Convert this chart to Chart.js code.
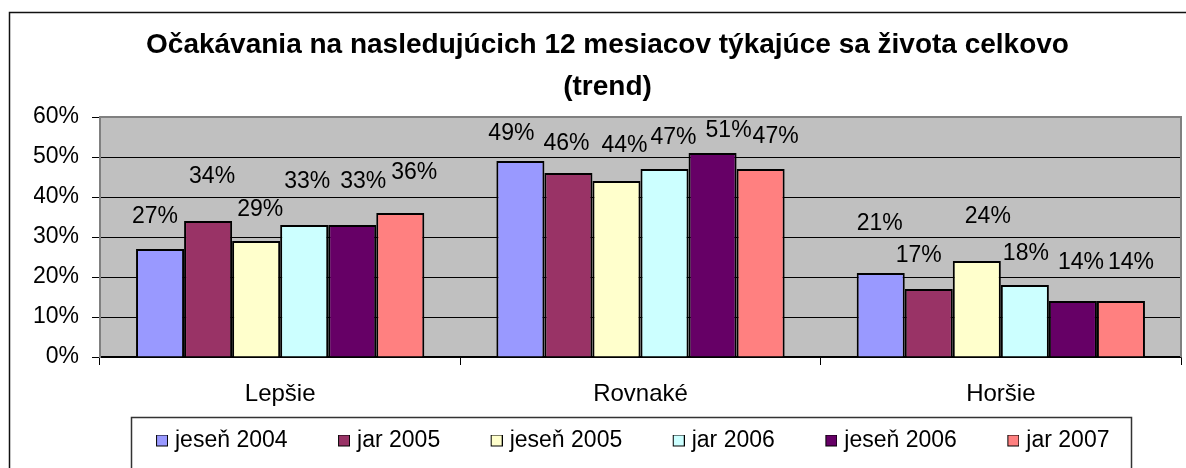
<!DOCTYPE html>
<html>
<head>
<meta charset="utf-8">
<script src="https://cdn.jsdelivr.net/npm/chart.js@4/dist/chart.umd.min.js"></script>
<style>
  html, body { margin: 0; padding: 0; background: #fff; }
  #wrap { width: 1186px; height: 468px; position: relative; }
</style>
</head>
<body>
<div id="wrap"><canvas id="c"></canvas></div>
<script>
// ---- data ----
const categories = ['Lepšie', 'Rovnaké', 'Horšie'];
const seriesNames = ['jeseň 2004', 'jar 2005', 'jeseň 2005', 'jar 2006', 'jeseň 2006', 'jar 2007'];
const jesen2004 = [27, 49, 21];
const jar2005   = [34, 46, 17];
const jesen2005 = [29, 44, 24];
const jar2006   = [33, 47, 18];
const jesen2006 = [33, 51, 14];
const jar2007   = [36, 47, 14];
const yMin = 0, yMax = 60, yStep = 10;
const titleLines = ['Očakávania na nasledujúcich 12 mesiacov týkajúce sa života celkovo', '(trend)'];

// ---- style ----
const seriesValues = [jesen2004, jar2005, jesen2005, jar2006, jesen2006, jar2007];
const seriesColors = ['#9999FF', '#993366', '#FFFFCC', '#CCFFFF', '#660066', '#FF8080'];
// value-label nudges relative to each bar top: [dx, rise] per series per category
const labelNudge = [
  [[-5, 32], [-9, 27], [-1, 49]],
  [[4, 44], [-2, 29], [-10, 33]],
  [[4, 31], [8, 35], [11, 44]],
  [[3, 43], [9, 31], [1, 31]],
  [[11, 43], [16, 22], [8, 38]],
  [[14, 40], [15, 32], [10, 38]]
];
const FONT = "'Liberation Sans', Arial, sans-serif";
const FS = 23;
const LEG_BOX = 58;   // legend slot width before text gap
const SQ = 12;        // legend square size

Chart.defaults.font.family = FONT;
Chart.defaults.font.size = FS;
Chart.defaults.color = '#000';

// legend icons: transparent lead + square placed near the text
function makeIcon(color) {
  const half = (LEG_BOX + FS / 2 - 7) - LEG_BOX / 2; // square right edge distance from center
  const w = Math.ceil(half * 2);
  const cv = document.createElement('canvas');
  cv.width = w; cv.height = SQ + 1;
  const g = cv.getContext('2d');
  const sx = w / 2 + half - SQ;
  g.fillStyle = color;
  g.fillRect(sx, 0.5, SQ - 1, SQ - 1);
  g.strokeStyle = '#000';
  g.lineWidth = 1;
  g.strokeRect(sx + 0.5, 0.5, SQ - 1, SQ - 1);
  return cv;
}
const icons = seriesColors.map(makeIcon);

const bgPlugin = {
  id: 'bg',
  beforeDraw(chart) {
    const { ctx, chartArea: a } = chart;
    ctx.save();
    ctx.fillStyle = '#fff';
    ctx.fillRect(0, 0, chart.width, chart.height);
    ctx.fillStyle = '#C0C0C0';
    ctx.fillRect(a.left, a.top, a.right - a.left, a.bottom - a.top);
    ctx.restore();
  },
  afterDatasetsDraw(chart) {
    const { ctx, chartArea: a } = chart;
    ctx.save();
    ctx.strokeStyle = '#808080';
    ctx.lineWidth = 2;
    ctx.beginPath();
    ctx.moveTo(a.left, a.top);
    ctx.lineTo(a.right, a.top);
    ctx.lineTo(a.right, a.bottom);
    ctx.stroke();
    // value labels
    ctx.fillStyle = '#000';
    ctx.font = FS + 'px ' + FONT;
    ctx.textAlign = 'center';
    ctx.textBaseline = 'middle';
    chart.data.datasets.forEach((ds, i) => {
      const meta = chart.getDatasetMeta(i);
      meta.data.forEach((bar, j) => {
        const n = labelNudge[i][j];
        ctx.fillText(ds.data[j] + '%', bar.x + n[0], bar.y - n[1]);
      });
    });
    ctx.restore();
  },
  afterDraw(chart) {
    const { ctx } = chart;
    ctx.save();
    // outer chart frame
    ctx.strokeStyle = '#111';
    ctx.lineWidth = 1.5;
    ctx.strokeRect(9.5, 12.5, 1400, 700);
    // legend frame
    const lg = chart.legend;
    const hb = lg.legendHitBoxes;
    if (hb && hb.length) {
      const sq1 = hb[0].left + LEG_BOX + FS / 2 - 7 - SQ;
      const last = hb[hb.length - 1];
      const left = sq1 - 25;
      const right = last.left + last.width + 22;
      const top = lg.top + FS / 2 - 24;
      ctx.strokeStyle = '#333';
      ctx.lineWidth = 1.5;
      ctx.strokeRect(Math.round(left) + 0.5, Math.round(top) + 0.5, Math.round(right - left), 200);
    }
    ctx.restore();
  }
};

new Chart(document.getElementById('c'), {
  type: 'bar',
  data: {
    labels: categories,
    datasets: seriesNames.map((name, i) => ({
      label: name,
      data: seriesValues[i],
      backgroundColor: seriesColors[i],
      borderColor: '#000',
      borderWidth: 2,
      borderSkipped: 'start',
      categoryPercentage: 0.8,
      barPercentage: 1.0
    }))
  },
  options: {
    responsive: true,
    maintainAspectRatio: false,
    animation: false,
    layout: { padding: { left: 34, right: 5, top: 0, bottom: 5.5 } },
    scales: {
      x: {
        grid: { display: true, drawOnChartArea: false, drawTicks: true, tickLength: 8, tickColor: '#000', offset: true },
        border: { display: true, color: '#000', width: 1.5 },
        ticks: { padding: 15, font: { size: 24 }, color: '#000', maxRotation: 0 },
        afterFit(s) { s.height = 72.5; }
      },
      y: {
        min: yMin, max: yMax,
        grid: {
          color: (c) => (c.tick && c.tick.value === yMax) ? 'rgba(0,0,0,0)' : '#000',
          lineWidth: 1, tickLength: 8, tickColor: '#000', drawTicks: true
        },
        border: { display: true, color: '#808080', width: 2 },
        ticks: { stepSize: yStep, padding: 13, font: { size: FS }, color: '#000', callback: (v) => v + '%' },
        afterFit(s) { s.width = 66; }
      }
    },
    plugins: {
      title: {
        display: true,
        text: titleLines,
        color: '#000',
        font: { size: 28, weight: 'bold', lineHeight: 1.5 },
        padding: { top: 24, bottom: 9 }
      },
      legend: {
        display: true,
        position: 'bottom',
        align: 'center',
        labels: {
          usePointStyle: true,
          pointStyleWidth: LEG_BOX,
          padding: 0,
          color: '#000',
          font: { size: FS },
          generateLabels(chart) {
            const items = Chart.defaults.plugins.legend.labels.generateLabels(chart);
            items.forEach((it, i) => { it.pointStyle = icons[i]; });
            return items;
          }
        }
      },
      tooltip: { enabled: false }
    }
  },
  plugins: [bgPlugin]
});
</script>
</body>
</html>
